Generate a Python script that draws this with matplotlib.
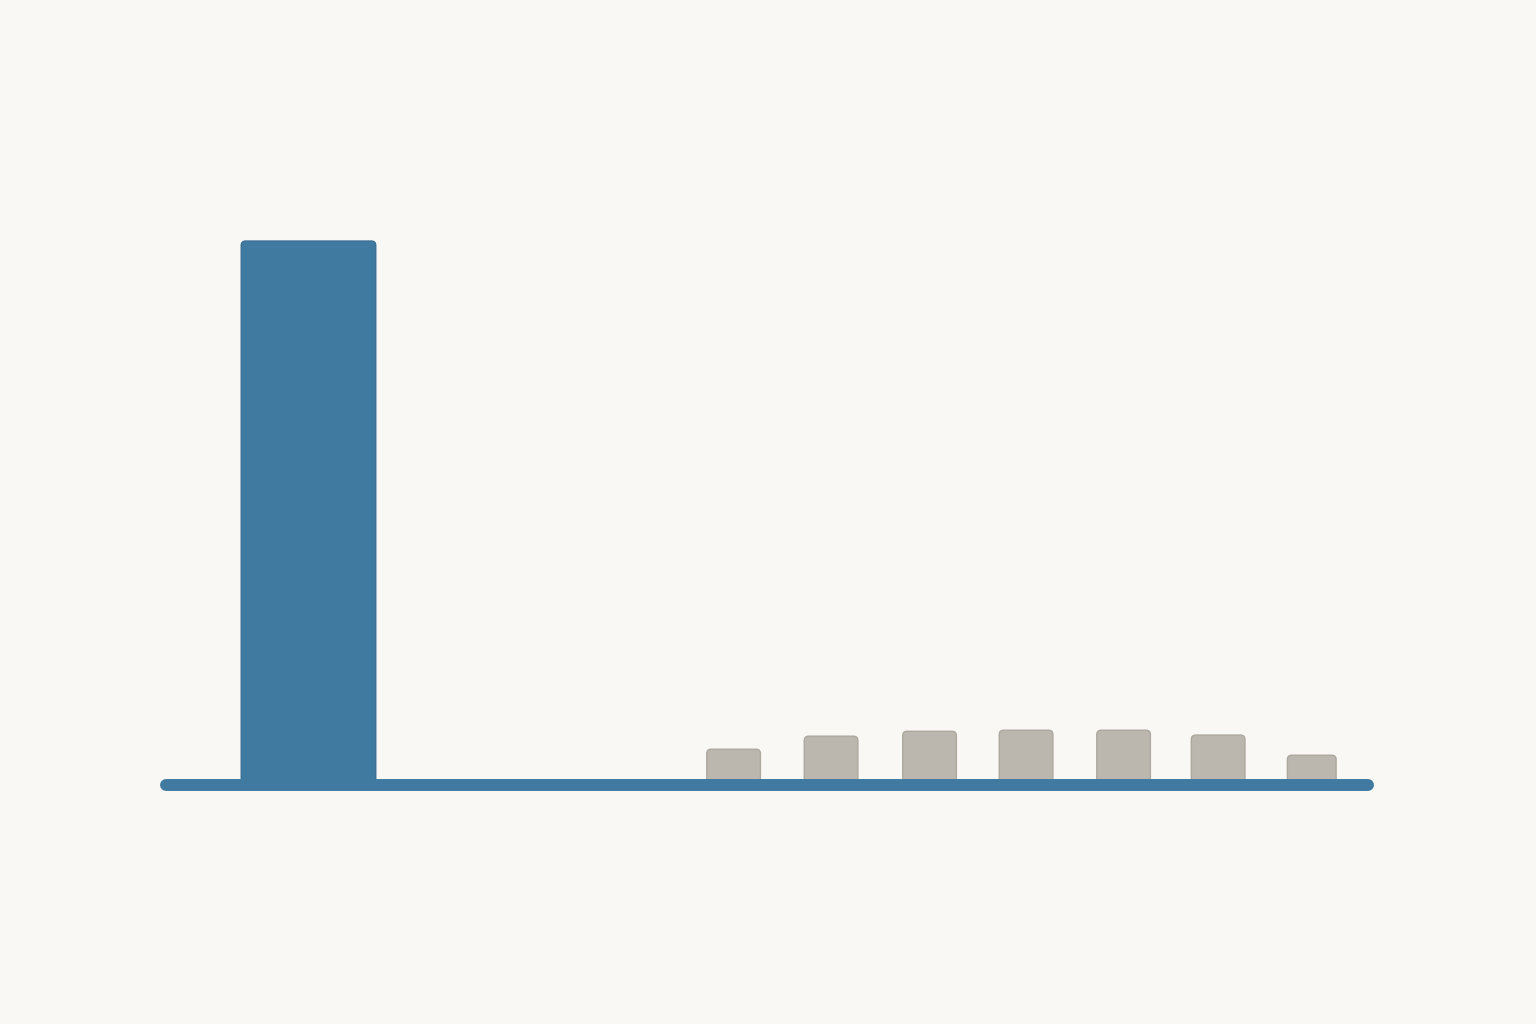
import matplotlib.pyplot as plt
from matplotlib.patches import FancyBboxPatch

# data
positions = [0, 4.36, 5.36, 6.37, 7.36, 8.36, 9.33, 10.29]
values = [100, 6.6, 9.0, 9.9, 10.1, 10.1, 9.2, 5.5]
highlight = [True, False, False, False, False, False, False, False]

bg = '#f9f8f4'
blue = '#417aa0'
gray = '#bbb6ae'

fig = plt.figure(figsize=(15.36, 10.24), dpi=100, facecolor=bg)
ax = fig.add_axes([0, 0, 1, 1])
ax.set_facecolor(bg)

widths = [1.38 if h else 0.55 for h in highlight]
widths[-1] = 0.5
bars = ax.bar(positions, values, width=widths, alpha=0)

ax.set_xlim(-3.164, 12.59)
ax.set_ylim(-43.9, 144.3)

# rounded tops
aspect = 97.5 / 5.44
for b, h in zip(bars, highlight):
    fc = blue if h else gray
    ec = '#3a6f95' if h else '#ada89f'
    p = FancyBboxPatch((b.get_x(), b.get_y()), b.get_width(), b.get_height(),
                       boxstyle='round,pad=0,rounding_size=0.045',
                       mutation_aspect=aspect, fc=fc, ec=ec, lw=1, zorder=2)
    ax.add_patch(p)

# baseline
ax.plot([-1.46, 10.87], [0, 0], color=blue, lw=8.6, solid_capstyle='round', zorder=3)

ax.axis('off')
fig.savefig('out.png', dpi=100, facecolor=bg)
